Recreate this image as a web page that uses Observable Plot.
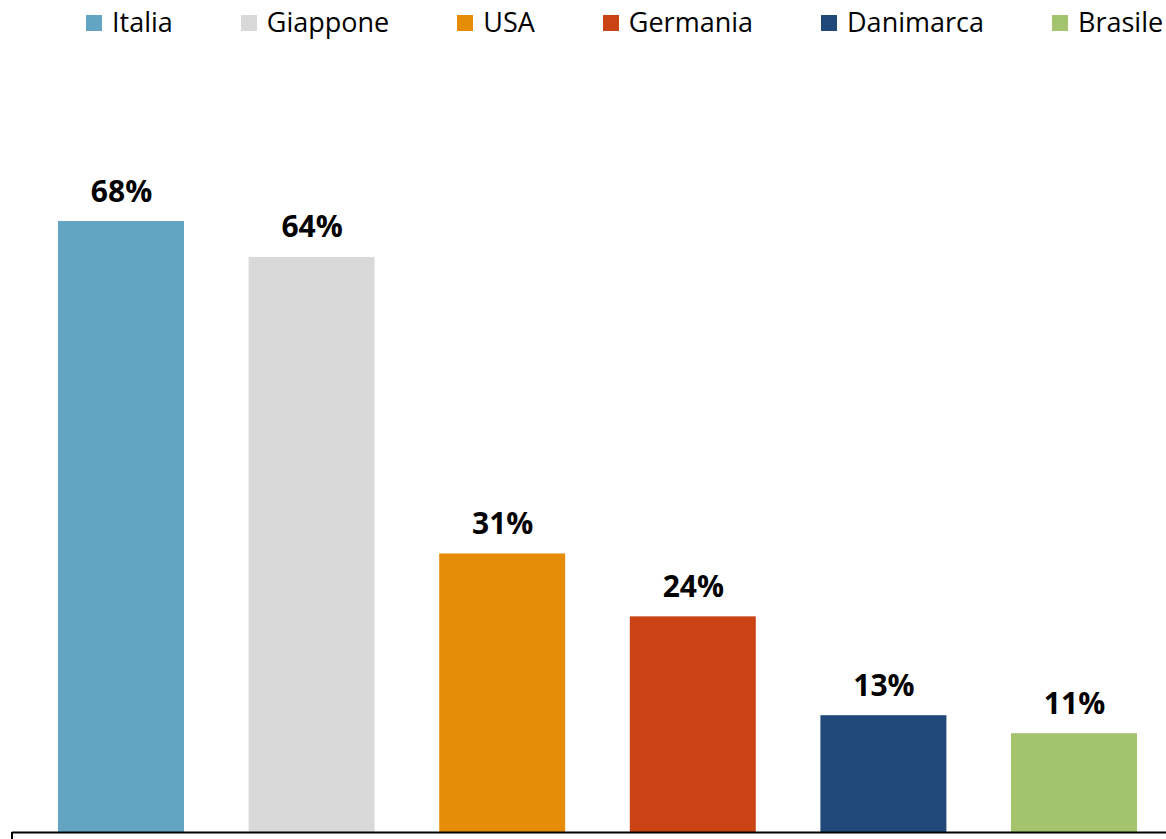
<!DOCTYPE html>
<html>
<head>
<meta charset="utf-8">
<script src="https://cdn.jsdelivr.net/npm/d3@7"></script>
<script src="https://cdn.jsdelivr.net/npm/@observablehq/plot@0.6"></script>
<style>
  html, body { margin: 0; padding: 0; background: #fff; }
  body { width: 1166px; height: 839px; overflow: hidden; font-family: "Open Sans", sans-serif; }
  #legend { display: flex; align-items: center; height: 45px; box-sizing: border-box; padding: 0 0 2px 86px; white-space: nowrap; }
  .item { display: flex; align-items: center; margin-right: 68px; font-size: 27px; line-height: 27px; color: #000; }
  .sw { width: 16px; height: 16px; margin-right: 10px; margin-top: 3px; flex: none; }
  #chart svg { display: block; }
</style>
</head>
<body>
<div id="legend"></div>
<div id="chart"></div>
<script>
const countries = ["Italia", "Giappone", "USA", "Germania", "Danimarca", "Brasile"];
const values = [68, 64, 31, 24, 13, 11];
const colors = ["#63A4C3", "#D9D9D9", "#E78C06", "#C94314", "#20497A", "#A3C46C"];

const data = countries.map((c, i) => ({country: c, value: values[i]}));

// Legend
const legend = document.getElementById("legend");
countries.forEach((c, i) => {
  const item = document.createElement("div");
  item.className = "item";
  const sw = document.createElement("span");
  sw.className = "sw";
  sw.style.background = colors[i];
  const t = document.createElement("span");
  t.textContent = c;
  item.appendChild(sw);
  item.appendChild(t);
  legend.appendChild(item);
});

const H = 794;
const baseline = 787;

const leftTick = (index, scales, values, dimensions) => {
  const y0 = scales.y(0);
  const g = document.createElementNS("http://www.w3.org/2000/svg", "line");
  g.setAttribute("x1", dimensions.marginLeft);
  g.setAttribute("x2", dimensions.marginLeft);
  g.setAttribute("y1", y0);
  g.setAttribute("y2", dimensions.height);
  g.setAttribute("stroke", "#000");
  g.setAttribute("stroke-width", 2);
  return g;
};

const chart = Plot.plot({
  width: 1166,
  height: H,
  marginLeft: 12,
  marginRight: 0,
  marginTop: 0,
  marginBottom: 7,
  x: {domain: countries, range: [25.7, 1169.3], paddingInner: 0.339, paddingOuter: 0.1695, round: false, axis: null},
  y: {domain: [0, 68], range: [baseline, 176], axis: null},
  color: {domain: countries, range: colors},
  style: {fontFamily: "'Open Sans', sans-serif", background: "#fff", overflow: "visible"},
  marks: [
    Plot.barY(data, {x: "country", y: "value", fill: "country"}),
    Plot.text(data, {
      x: "country", y: "value", text: d => d.value + "%",
      lineAnchor: "bottom", dy: -20,
      fontSize: 30, fontWeight: "bold", fill: "#000"
    }),
    Plot.ruleY([0], {stroke: "#000", strokeWidth: 2}),
    leftTick
  ]
});
document.getElementById("chart").appendChild(chart);
</script>
</body>
</html>
